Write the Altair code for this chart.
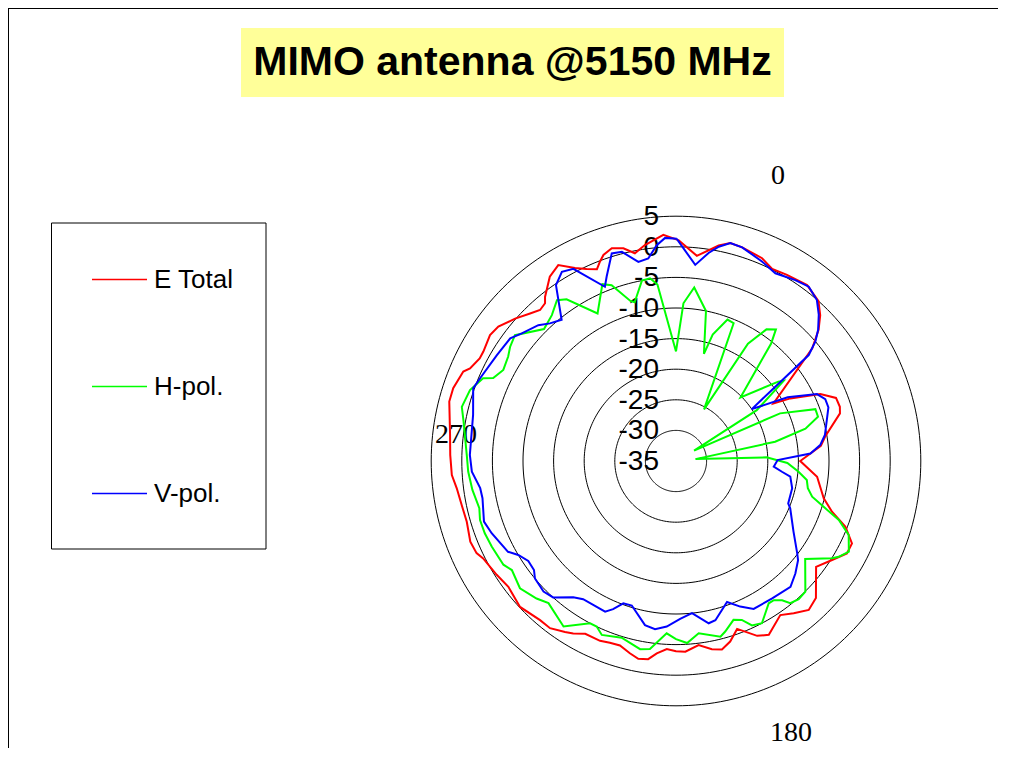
import altair as alt
import numpy as np
import pandas as pd

# ---------------- data (angle in degrees, level in dB) -------------
e_total_angle = [0.6, 5.8, 11.2, 14.0, 17.2, 23.0, 26.6, 30.8, 36.7, 41.7,
                 44.7, 47.4, 50.4, 59.4, 61.3, 65.1, 68.5, 71.7, 73.8, 80.4,
                 84.0, 90.0, 96.4, 104.2, 108.0, 111.2, 115.1, 118.4, 122.4, 127.1,
                 134.4, 138.3, 142.3, 145.9, 151.9, 155.1, 160.0, 163.3, 166.3, 169.2,
                 173.0, 177.2, 180.0, 182.8, 185.7, 188.0, 190.8, 193.5, 196.9, 200.0,
                 202.9, 207.7, 210.8, 213.0, 217.0, 220.5, 226.9, 233.1, 237.6, 243.2,
                 245.2, 248.6, 253.8, 258.4, 262.9, 266.4, 271.5, 277.0, 284.7, 288.1,
                 292.8, 294.2, 297.6, 299.6, 304.1, 307.1, 311.5, 315.3, 318.0, 320.3,
                 321.4, 325.6, 329.0, 332.4, 335.0, 337.6, 339.1, 340.6, 343.2, 346.1,
                 348.8, 351.8, 356.8]
e_total_db = [1.1, -1.3, 0.9, 1.7, 1.55, 1.0, 0.1, 0.4, 0.85, 0.0,
              -1.5, -3.35, -6.1, -16.5, -13.7, -9.0, -6.9, -6.8, -7.1, -10.2,
              -11.2, -14.7, -11.8, -10.1, -8.2, -5.3, -3.25, -3.25, -4.8, -6.3,
              -3.0, -2.4, -3.55, -4.6, -2.8, -3.5, -5.8, -4.2, -3.3, -3.7,
              -4.7, -3.8, -3.9, -4.25, -3.4, -2.3, -2.1, -2.7, -3.5, -3.4,
              -3.1, -3.1, -2.2, -1.7, -0.8, -0.8, -0.1, -0.75, -0.3, 0.3,
              0.9, 1.1, 0.6, 0.75, 1.1, 1.7, 1.9, 2.2, 3.3, 3.3,
              2.7, 1.9, 1.2, 1.2, 1.7, 1.4, 0.1, -1.1, -1.8, -1.5,
              -0.7, 1.5, 2.35, 0.6, -0.4, -1.1, -0.15, 0.7, 1.3, 0.8,
              -0.4, 0.65, 2.0]

h_pol_angle = [0.0, 2.7, 6.0, 11.3, 14.6, 16.2, 20.0, 22.7, 28.5, 31.5,
               34.5, 37.2, 39.0, 45.4, 52.2, 53.3, 57.8, 60.2, 65.4, 69.6,
               72.7, 76.0, 79.0, 84.5, 87.7, 91.0, 95.0, 98.3, 101.7, 104.7,
               107.6, 109.9, 113.2, 117.7, 120.5, 121.9, 127.2, 135.3, 138.4, 141.2,
               142.7, 144.9, 146.9, 152.1, 155.2, 157.5, 160.1, 163.9, 165.8, 172.5,
               176.5, 180.0, 183.1, 187.9, 190.8, 197.1, 203.1, 205.6, 207.9, 214.2,
               221.9, 225.4, 230.8, 236.4, 239.0, 245.1, 249.3, 253.2, 256.5, 261.9,
               267.1, 271.6, 280.5, 284.2, 289.0, 293.2, 294.4, 297.8, 301.9, 304.5,
               308.0, 315.0, 319.6, 323.5, 325.9, 332.0, 337.4, 339.9, 344.1, 345.4,
               349.3, 351.9, 354.0]
h_pol_db = [-17.1, -9.2, -6.5, -10.0, -16.9, -13.5, -10.4, -10.6, -25.4, -12.5,
            -8.9, -8.0, -10.3, -20.2, -13.85, -13.05, -19.4, -31.6, -16.3, -10.7,
            -10.7, -13.2, -18.5, -31.8, -20.2, -16.8, -14.9, -13.4, -13.0, -12.0,
            -9.4, -6.7, -4.3, -3.1, -4.15, -4.95, -8.5, -4.95, -4.8, -5.2,
            -6.4, -7.2, -7.25, -5.0, -5.4, -6.9, -7.4, -6.0, -5.4, -6.6,
            -5.2, -5.9, -6.8, -4.0, -3.7, -4.8, -4.1, -5.0, -5.0, -2.3,
            -3.8, -3.0, -2.1, -2.8, -2.1, -1.8, -1.6, -1.55, -1.95, -1.4,
            -1.0, -0.8, 0.3, 1.1, 0.6, -0.7, -2.2, -3.1, -2.7, -2.1,
            -1.6, -4.5, -3.7, -2.3, -3.1, -7.7, -3.7, -4.4, -7.8, -8.2,
            -5.0, -4.85, -6.0]

v_pol_angle = [0.2, 5.6, 8.9, 11.3, 14.0, 17.2, 23.3, 27.9, 33.4, 37.3,
               41.2, 44.3, 47.3, 49.4, 51.4, 55.6, 60.3, 64.6, 67.5, 70.6,
               75.0, 80.1, 83.7, 86.8, 89.5, 93.3, 95.8, 97.8, 103.2, 110.7,
               112.5, 121.0, 127.3, 129.1, 133.3, 137.7, 145.0, 152.3, 156.2, 160.1,
               166.1, 168.6, 174.0, 178.5, 183.2, 187.1, 190.7, 197.0, 200.3, 203.0,
               205.2, 213.9, 217.0, 222.0, 225.4, 230.2, 232.5, 235.9, 239.2, 241.6,
               248.6, 252.5, 259.1, 262.1, 267.0, 271.7, 282.8, 289.7, 292.9, 300.6,
               306.5, 309.6, 314.6, 317.5, 321.0, 325.7, 328.9, 331.9, 337.8, 339.4,
               342.8, 345.5, 349.3, 352.2, 354.9, 357.2]
v_pol_db = [1.3, -2.8, -0.6, 0.7, 1.7, 1.55, 0.5, -0.3, 0.4, 0.8,
            -0.05, -1.6, -3.4, -5.0, -7.25, -20.0, -14.0, -9.5, -8.6, -8.6,
            -9.5, -10.3, -11.3, -13.0, -18.4, -19.0, -17.6, -16.15, -15.5, -15.4,
            -14.8, -12.6, -10.1, -9.3, -8.2, -7.2, -7.6, -7.7, -9.0, -10.5,
            -8.2, -7.95, -10.0, -9.2, -7.9, -7.3, -7.7, -10.3, -10.2, -8.7,
            -7.8, -7.8, -7.1, -5.0, -4.6, -5.0, -5.75, -5.85, -5.0, -3.8,
            -2.65, -2.1, -2.8, -2.7, -1.6, -1.3, -1.0, 0.2, -0.25, -1.0,
            -1.3, -2.3, -3.4, -4.5, -5.3, -0.2, 1.1, 0.6, -4.25, -2.8,
            0.5, 0.3, -1.9, -1.6, 0.4, 1.5]

series_names = ["E Total", "H-pol.", "V-pol."]
series_colors = ["#ff0000", "#00ff00", "#0000ff"]

radial_ticks = [5, 0, -5, -10, -15, -20, -25, -30, -35]
grid_rings = [5, 0, -5, -10, -15, -20, -25, -30]

angle_labels = ["0", "270", "180"]
angle_label_x = [16.67, -35.95, 18.79]   # in dB-radius units, relative to the pole
angle_label_y = [46.57, 4.17, -44.44]

title_text = "MIMO antenna  @5150 MHz"

# ---------------- geometry ----------------
DB_MIN = -35.0
PX = 6.12                  # pixels per dB
W, H = 990, 740
CX, CY = 668.0, 453.0      # pole position inside the chart
x_dom = [-CX / PX, (W - CX) / PX]
y_dom = [-(H - CY) / PX, CY / PX]


def polar(angle_deg, db):
    a = np.radians(np.asarray(angle_deg, dtype=float))
    r = np.asarray(db, dtype=float) - DB_MIN
    return r * np.sin(a), r * np.cos(a)


frames = []
for name, ang, val in [("E Total", e_total_angle, e_total_db),
                       ("H-pol.", h_pol_angle, h_pol_db),
                       ("V-pol.", v_pol_angle, v_pol_db)]:
    ang_c = list(ang) + [ang[0] + 360]
    val_c = list(val) + [val[0]]
    x, y = polar(ang_c, val_c)
    frames.append(pd.DataFrame({"series": name, "order": range(len(x)),
                                "x": x, "y": y}))
curves = pd.concat(frames, ignore_index=True)

ring_frames = []
theta = np.linspace(0, 360, 241)
for lvl in grid_rings:
    x, y = polar(theta, np.full_like(theta, lvl))
    ring_frames.append(pd.DataFrame({"ring": str(lvl), "i": range(len(x)), "x": x, "y": y}))
rings = pd.concat(ring_frames, ignore_index=True)

tick_df = pd.DataFrame({"label": [str(t) for t in radial_ticks],
                        "x": -17.0 / PX,
                        "y": [t - DB_MIN for t in radial_ticks]})
ang_df = pd.DataFrame({"label": angle_labels, "x": angle_label_x, "y": angle_label_y})

X = alt.X("x:Q", scale=alt.Scale(domain=x_dom, nice=False, zero=False), axis=None)
Y = alt.Y("y:Q", scale=alt.Scale(domain=y_dom, nice=False, zero=False), axis=None)

one = pd.DataFrame({"k": [0]})

frame_top = alt.Chart(one).mark_rule(color="black", strokeWidth=1).encode(
    x=alt.value(0), x2=alt.value(W), y=alt.value(0.5))
frame_left = alt.Chart(one).mark_rule(color="black", strokeWidth=1).encode(
    x=alt.value(0.5), y=alt.value(0), y2=alt.value(H))

title_box = alt.Chart(one).mark_rect(color="#ffff99").encode(
    x=alt.value(233), x2=alt.value(776), y=alt.value(20), y2=alt.value(89))
title = alt.Chart(one).mark_text(
    text=title_text, font="Liberation Sans", fontSize=41, fontWeight="bold",
    align="center", baseline="middle", color="black").encode(
    x=alt.value(504.5), y=alt.value(55))

legend_box = alt.Chart(one).mark_rect(fill="white", stroke="black", strokeWidth=1).encode(
    x=alt.value(43.5), x2=alt.value(258), y=alt.value(215), y2=alt.value(541))

ring_layer = alt.Chart(rings).mark_line(color="black", strokeWidth=1).encode(
    x=X, y=Y, detail="ring:N", order="i:Q")

tick_layer = alt.Chart(tick_df).mark_text(
    align="right", baseline="middle", font="Liberation Sans", fontSize=28,
    color="black", dy=1).encode(x=X, y=Y, text="label:N")

ang_layer = alt.Chart(ang_df).mark_text(
    align="center", baseline="middle", font="Liberation Serif", fontSize=28,
    color="black").encode(x=X, y=Y, text="label:N")

curve_layer = alt.Chart(curves).mark_line(strokeWidth=2).encode(
    x=X, y=Y, order="order:Q",
    color=alt.Color("series:N",
                    scale=alt.Scale(domain=series_names, range=series_colors),
                    legend=alt.Legend(title=None, orient="none", legendX=83, legendY=243,
                                      symbolType="stroke", symbolSize=3025,
                                      symbolStrokeWidth=1.5, labelFontSize=26,
                                      labelFont="Liberation Sans", labelColor="black",
                                      labelOffset=6, rowPadding=65, padding=0)))

chart = alt.layer(frame_top, frame_left, title_box, title, legend_box, ring_layer,
                  tick_layer, ang_layer, curve_layer).properties(
    width=W, height=H, padding=0,
    autosize=alt.AutoSizeParams(type="none")
).configure_view(stroke=None)

chart.save("out.html", embed_options={"renderer": "svg", "actions": False})
